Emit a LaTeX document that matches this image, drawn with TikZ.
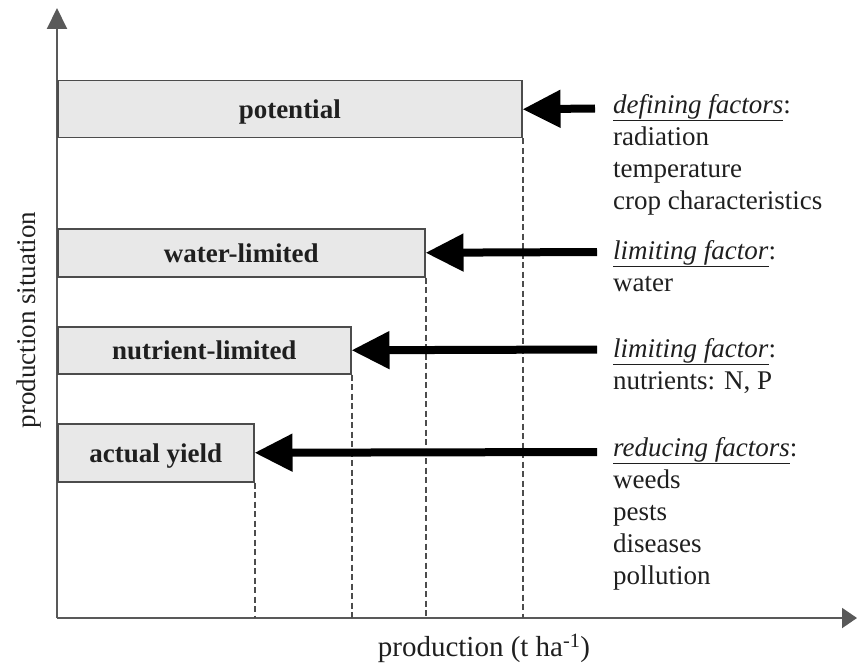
\documentclass[tikz,border=0pt]{standalone}
\usepackage{fontspec}
\setmainfont{Liberation Serif}
\usetikzlibrary{arrows.meta}
\begin{document}
\begin{tikzpicture}[x=1pt,y=-1pt,
  every node/.style={font=\fontsize{27}{32}\selectfont, text=black!88},
  axis/.style={draw=black!65, line width=2pt},
  levelbox/.style={draw=black!70, fill=black!9, line width=1.5pt, anchor=north west,
    inner sep=0pt, text depth=0pt, font=\fontsize{27}{32}\selectfont\bfseries},
  guide/.style={draw=black!70, line width=2pt, dash pattern=on 6pt off 3.5pt},
  bigarrow/.style={draw=black, line width=8pt, -{Triangle[length=38pt,width=36pt]}},
  factors/.style={anchor=north west, align=left, inner sep=0pt}
]
\useasboundingbox (0,0) rectangle (858,663);

% axes
\coordinate (O) at (57,618);
\coordinate (ytip) at (57,8);
\coordinate (xtip) at (857,618);
\draw[axis, -{Triangle[length=21pt,width=20pt]}] (O) -- (ytip);
\draw[axis, -{Triangle[length=15pt,width=20pt]}] (O) -- (xtip);
\node[rotate=90] (ylab) at (29,320) {production situation};
\node[font=\fontsize{29}{34}\selectfont] (xlab) at (484,648) {production (t ha\textsuperscript{-1})};

% production levels
\node[levelbox, minimum width=464pt, minimum height=57pt] (pot) at (57,80) {potential};
\node[levelbox, minimum width=367pt, minimum height=48pt] (wat) at (57,228) {water-limited};
\node[levelbox, minimum width=293pt, minimum height=47pt] (nut) at (57,326) {nutrient-limited};
\node[levelbox, minimum width=196pt, minimum height=58pt] (act) at (57,423) {actual yield\hspace{18pt}};

% guides down to the production axis
\foreach \b in {pot,wat,nut,act}
  \draw[guide] (\b.south east) -- (\b.south east |- O);

% factor arrows
\coordinate (fp) at (595,108.5);
\coordinate (fw) at (597,252);
\coordinate (fn) at (597,349.5);
\coordinate (fa) at (597,452);
\draw[bigarrow] (fp) -- (pot.east);
\draw[bigarrow] (fw) -- (wat.east);
\draw[bigarrow] (fn) -- (nut.east);
\draw[bigarrow] (fa) -- (act.east);

% factor lists
\node[factors] (tp) at (613,94) {\underline{\textit{defining factors}}:\\radiation\\temperature\\crop characteristics};
\node[factors] (tw) at (613,240) {\underline{\textit{limiting factor}}:\\water};
\node[factors] (tn) at (613,338) {\underline{\textit{limiting factor}}:\\nutrients: N, P};
\node[factors] (ta) at (613,437) {\underline{\textit{reducing factors}}:\\weeds\\pests\\diseases\\pollution};
\end{tikzpicture}
\end{document}
